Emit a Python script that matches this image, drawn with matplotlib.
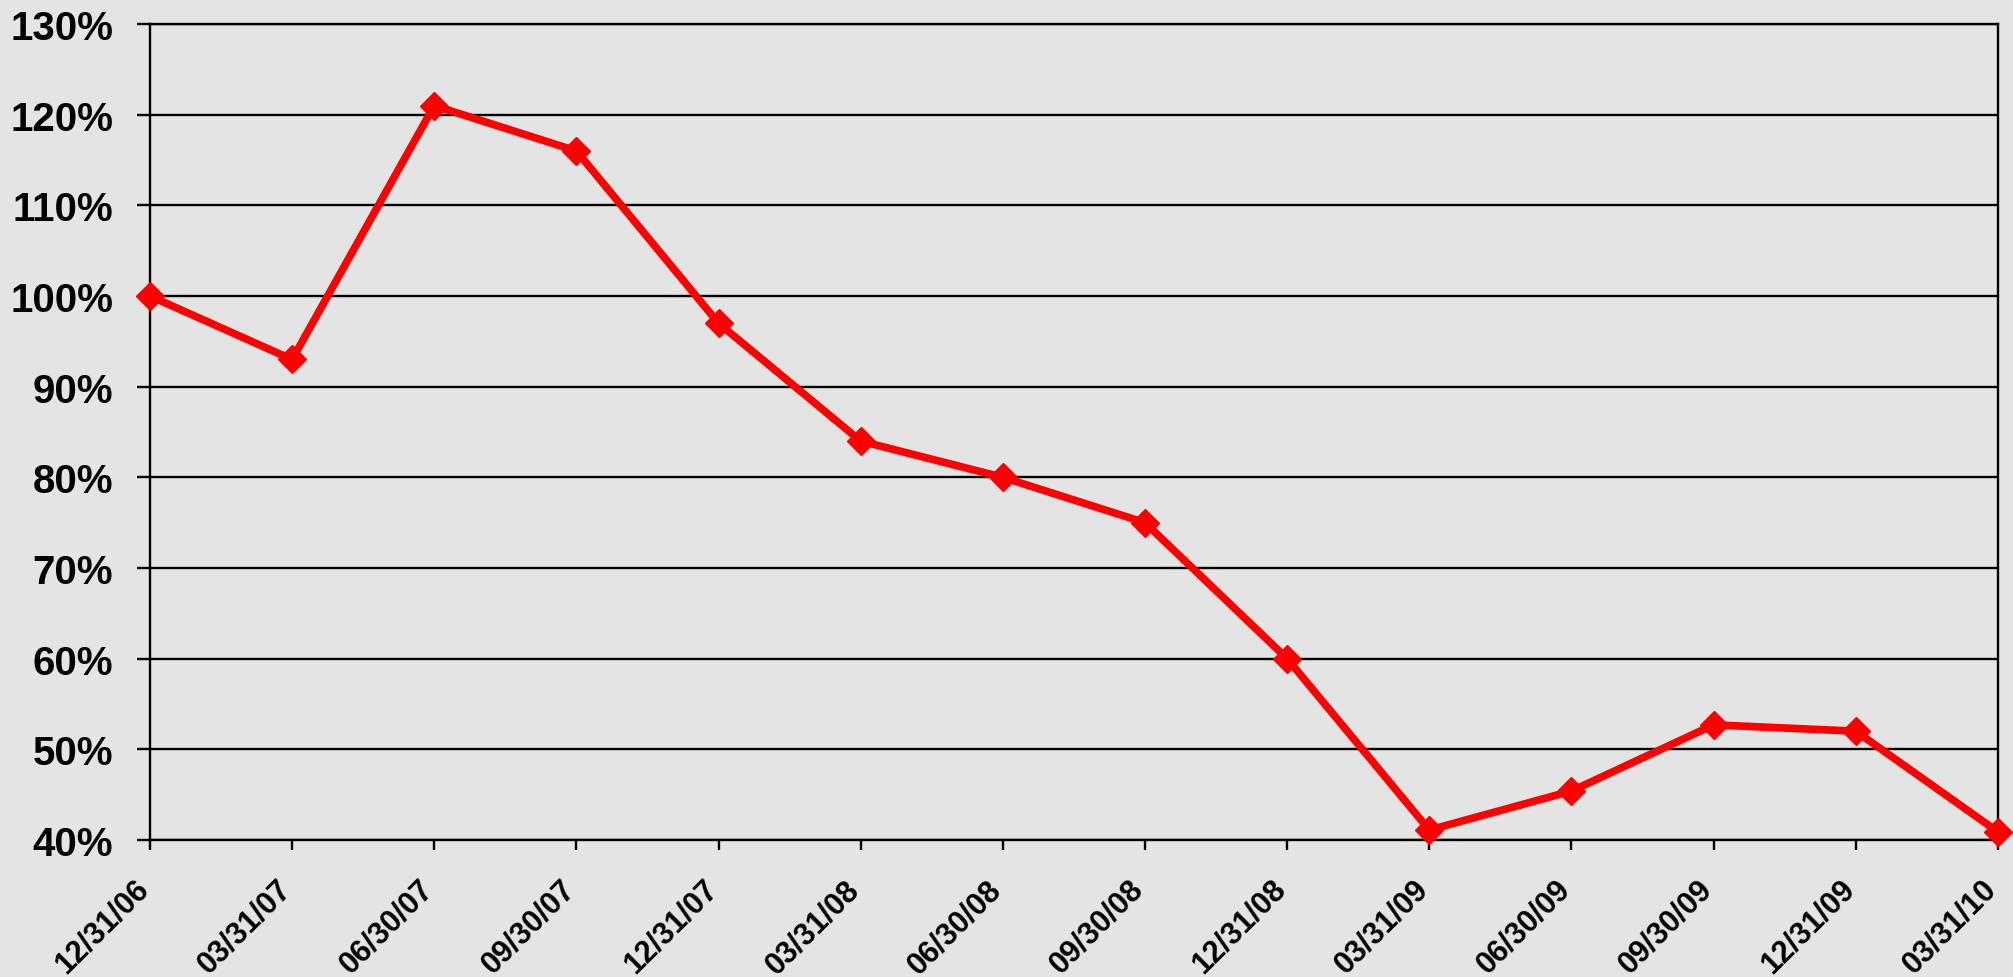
import matplotlib.pyplot as plt
from matplotlib.ticker import FuncFormatter
from matplotlib.transforms import ScaledTranslation

dates = ['12/31/06', '03/31/07', '06/30/07', '09/30/07', '12/31/07', '03/31/08', '06/30/08',
         '09/30/08', '12/31/08', '03/31/09', '06/30/09', '09/30/09', '12/31/09', '03/31/10']
values = [100, 93, 121, 116, 97, 84, 80, 75, 60, 41.1, 45.4, 52.7, 52.0, 40.9]
y_ticks = [40, 50, 60, 70, 80, 90, 100, 110, 120, 130]

plt.rcParams['font.family'] = ['Liberation Sans', 'DejaVu Sans']
plt.rcParams['font.weight'] = 'bold'

bg = '#e4e4e4'
fig = plt.figure(figsize=(20.13, 9.78), dpi=100, facecolor=bg)
ax = fig.add_axes([0.0745, 0.1401, 0.918, 0.8343])
ax.set_facecolor(bg)

x = list(range(len(dates)))
ax.plot(x, values, color='#ff0000', lw=5.5, marker='D', ms=14,
        mec='#ff0000', mfc='#ff0000', clip_on=False, zorder=5)

ax.set_xlim(0, len(dates) - 1)
ax.set_ylim(40, 130)
ax.set_yticks(y_ticks)
ax.yaxis.set_major_formatter(FuncFormatter(lambda v, p: f'{v:.0f}%'))
ax.set_xticks(x)
ax.set_xticklabels(dates, rotation=45, ha='right', va='baseline', rotation_mode='anchor')
# nudge the rotated date labels a bit to the right, like the original
shift = ScaledTranslation(7 / 100, 0, fig.dpi_scale_trans)
for lab in ax.get_xticklabels():
    lab.set_transform(lab.get_transform() + shift)

ax.grid(axis='y', color='black', lw=1.7)
ax.set_axisbelow(True)
for s in ax.spines.values():
    s.set_color('black')
    s.set_linewidth(1.7)

ax.tick_params(axis='y', length=9.5, width=1.7, pad=17, labelsize=29)
ax.tick_params(axis='x', length=7, width=1.7, pad=29, labelsize=22)

fig.savefig('out.png', dpi=100, facecolor=bg)
